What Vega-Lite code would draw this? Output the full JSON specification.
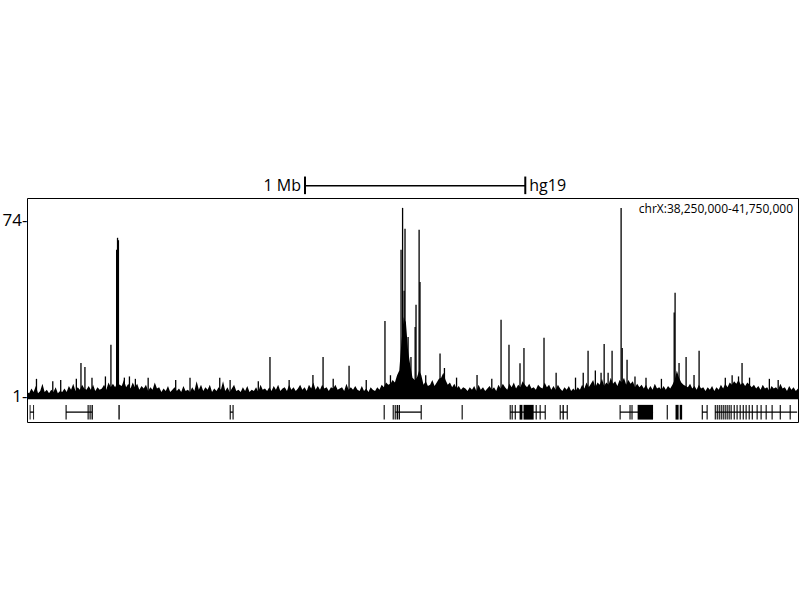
{
  "$schema": "https://vega.github.io/schema/vega-lite/v6.json",
  "width": 771,
  "height": 224,
  "autosize": {"type": "none"},
  "padding": {"left": 27, "top": 198, "right": 2, "bottom": 178},
  "background": "white",
  "config": {"view": {"stroke": "black", "strokeWidth": 1}},
  "datasets": {
    "signal": [
      {"kb":38250,"v":3},{"kb":38260,"v":2.5},{"kb":38270,"v":4.5},{"kb":38280,"v":3},{"kb":38290,"v":5.5},{"kb":38300,"v":2.5},{"kb":38310,"v":3.5},{"kb":38320,"v":6.5},{"kb":38330,"v":3},{"kb":38340,"v":4},
      {"kb":38350,"v":2.5},{"kb":38360,"v":4},{"kb":38370,"v":3},{"kb":38380,"v":5},{"kb":38390,"v":2.5},{"kb":38400,"v":3.5},{"kb":38410,"v":3},{"kb":38420,"v":4.5},{"kb":38430,"v":3},{"kb":38440,"v":5.5},
      {"kb":38450,"v":4},{"kb":38460,"v":6.5},{"kb":38470,"v":3.5},{"kb":38480,"v":5},{"kb":38490,"v":4},{"kb":38500,"v":6},{"kb":38510,"v":4.5},{"kb":38520,"v":4},{"kb":38530,"v":5.5},{"kb":38540,"v":4},
      {"kb":38550,"v":6},{"kb":38560,"v":3.5},{"kb":38570,"v":5},{"kb":38580,"v":4},{"kb":38590,"v":4.5},{"kb":38600,"v":6},{"kb":38610,"v":4},{"kb":38620,"v":7},{"kb":38630,"v":5},{"kb":38640,"v":6.5},
      {"kb":38650,"v":5},{"kb":38660,"v":7},{"kb":38670,"v":6},{"kb":38680,"v":5.5},{"kb":38690,"v":8},{"kb":38700,"v":5},{"kb":38710,"v":6.5},{"kb":38720,"v":4.5},{"kb":38730,"v":7},{"kb":38740,"v":5},
      {"kb":38750,"v":6.5},{"kb":38760,"v":4},{"kb":38770,"v":5.5},{"kb":38780,"v":4.5},{"kb":38790,"v":6},{"kb":38800,"v":3.5},{"kb":38810,"v":5},{"kb":38820,"v":4},{"kb":38830,"v":7},{"kb":38840,"v":4.5},
      {"kb":38850,"v":5},{"kb":38860,"v":3},{"kb":38870,"v":4.5},{"kb":38880,"v":3.5},{"kb":38890,"v":5.5},{"kb":38900,"v":3},{"kb":38910,"v":4},{"kb":38920,"v":5},{"kb":38930,"v":3.5},{"kb":38940,"v":4.5},
      {"kb":38950,"v":3},{"kb":38960,"v":5.5},{"kb":38970,"v":3.5},{"kb":38980,"v":4},{"kb":38990,"v":3},{"kb":39000,"v":5},{"kb":39010,"v":3.5},{"kb":39020,"v":7.5},{"kb":39030,"v":4},{"kb":39040,"v":6},
      {"kb":39050,"v":3.5},{"kb":39060,"v":5},{"kb":39070,"v":4},{"kb":39080,"v":6},{"kb":39090,"v":3},{"kb":39100,"v":4.5},{"kb":39110,"v":3.5},{"kb":39120,"v":5},{"kb":39130,"v":4},{"kb":39140,"v":7.5},
      {"kb":39150,"v":3.5},{"kb":39160,"v":5},{"kb":39170,"v":3},{"kb":39180,"v":4.5},{"kb":39190,"v":6},{"kb":39200,"v":3.5},{"kb":39210,"v":4},{"kb":39220,"v":3},{"kb":39230,"v":5},{"kb":39240,"v":3.5},
      {"kb":39250,"v":5.5},{"kb":39260,"v":3},{"kb":39270,"v":4},{"kb":39280,"v":3.5},{"kb":39290,"v":5},{"kb":39300,"v":3},{"kb":39310,"v":6},{"kb":39320,"v":4},{"kb":39330,"v":4.5},{"kb":39340,"v":3.5},
      {"kb":39350,"v":5},{"kb":39360,"v":3.5},{"kb":39370,"v":5.5},{"kb":39380,"v":4},{"kb":39390,"v":6},{"kb":39400,"v":3.5},{"kb":39410,"v":4.5},{"kb":39420,"v":5},{"kb":39430,"v":3.5},{"kb":39440,"v":6},
      {"kb":39450,"v":4},{"kb":39460,"v":5},{"kb":39470,"v":3.5},{"kb":39480,"v":4.5},{"kb":39490,"v":6},{"kb":39500,"v":4},{"kb":39510,"v":5},{"kb":39520,"v":3.5},{"kb":39530,"v":6},{"kb":39540,"v":4.5},
      {"kb":39550,"v":7},{"kb":39560,"v":4},{"kb":39570,"v":5.5},{"kb":39580,"v":4},{"kb":39590,"v":6},{"kb":39600,"v":4.5},{"kb":39610,"v":5},{"kb":39620,"v":3.5},{"kb":39630,"v":5},{"kb":39640,"v":4.5},
      {"kb":39650,"v":6},{"kb":39660,"v":4},{"kb":39670,"v":4.5},{"kb":39680,"v":5},{"kb":39690,"v":3.5},{"kb":39700,"v":6.5},{"kb":39710,"v":4},{"kb":39720,"v":5},{"kb":39730,"v":4},{"kb":39740,"v":5.5},
      {"kb":39750,"v":4},{"kb":39760,"v":3.5},{"kb":39770,"v":5.5},{"kb":39780,"v":3.5},{"kb":39790,"v":4.5},{"kb":39800,"v":3},{"kb":39810,"v":5},{"kb":39820,"v":4},{"kb":39830,"v":3.5},{"kb":39840,"v":5},
      {"kb":39850,"v":4},{"kb":39860,"v":6},{"kb":39870,"v":5},{"kb":39880,"v":7},{"kb":39890,"v":6},{"kb":39900,"v":6.5},{"kb":39910,"v":8},{"kb":39920,"v":7},{"kb":39930,"v":10},{"kb":39940,"v":12},
      {"kb":39950,"v":24},{"kb":39960,"v":34},{"kb":39970,"v":32},{"kb":39980,"v":20},{"kb":39990,"v":14},{"kb":40000,"v":9},{"kb":40010,"v":8},{"kb":40020,"v":9},{"kb":40030,"v":12},{"kb":40040,"v":10},
      {"kb":40050,"v":6},{"kb":40060,"v":7.5},{"kb":40070,"v":5.5},{"kb":40080,"v":6},{"kb":40090,"v":8},{"kb":40100,"v":5.5},{"kb":40110,"v":7},{"kb":40120,"v":8.5},{"kb":40130,"v":9},{"kb":40140,"v":11},
      {"kb":40150,"v":8},{"kb":40160,"v":6},{"kb":40170,"v":7},{"kb":40180,"v":5},{"kb":40190,"v":6.5},{"kb":40200,"v":4.5},{"kb":40210,"v":5.5},{"kb":40220,"v":4},{"kb":40230,"v":5},{"kb":40240,"v":4.5},
      {"kb":40250,"v":3.5},{"kb":40260,"v":5},{"kb":40270,"v":4},{"kb":40280,"v":5.5},{"kb":40290,"v":3.5},{"kb":40300,"v":6},{"kb":40310,"v":4},{"kb":40320,"v":5},{"kb":40330,"v":3.5},{"kb":40340,"v":4.5},
      {"kb":40350,"v":5.5},{"kb":40360,"v":4},{"kb":40370,"v":5},{"kb":40380,"v":3.5},{"kb":40390,"v":6},{"kb":40400,"v":4.5},{"kb":40410,"v":6.5},{"kb":40420,"v":5},{"kb":40430,"v":4},{"kb":40440,"v":6.5},
      {"kb":40450,"v":5},{"kb":40460,"v":7},{"kb":40470,"v":4.5},{"kb":40480,"v":6},{"kb":40490,"v":5},{"kb":40500,"v":7.5},{"kb":40510,"v":6},{"kb":40520,"v":5},{"kb":40530,"v":6.5},{"kb":40540,"v":4.5},
      {"kb":40550,"v":5},{"kb":40560,"v":4},{"kb":40570,"v":6},{"kb":40580,"v":5},{"kb":40590,"v":4.5},{"kb":40600,"v":7},{"kb":40610,"v":5},{"kb":40620,"v":6},{"kb":40630,"v":4},{"kb":40640,"v":5.5},
      {"kb":40650,"v":4},{"kb":40660,"v":6},{"kb":40670,"v":4.5},{"kb":40680,"v":3.5},{"kb":40690,"v":5},{"kb":40700,"v":4},{"kb":40710,"v":5.5},{"kb":40720,"v":3.5},{"kb":40730,"v":4.5},{"kb":40740,"v":3.5},
      {"kb":40750,"v":5},{"kb":40760,"v":4},{"kb":40770,"v":6},{"kb":40780,"v":4.5},{"kb":40790,"v":7},{"kb":40800,"v":5},{"kb":40810,"v":6.5},{"kb":40820,"v":8},{"kb":40830,"v":5},{"kb":40840,"v":7},
      {"kb":40850,"v":6},{"kb":40860,"v":8.5},{"kb":40870,"v":5.5},{"kb":40880,"v":7},{"kb":40890,"v":6},{"kb":40900,"v":9},{"kb":40910,"v":6.5},{"kb":40920,"v":7.5},{"kb":40930,"v":5.5},{"kb":40940,"v":8},
      {"kb":40950,"v":7},{"kb":40960,"v":9},{"kb":40970,"v":6},{"kb":40980,"v":8},{"kb":40990,"v":6.5},{"kb":41000,"v":7.5},{"kb":41010,"v":5},{"kb":41020,"v":6.5},{"kb":41030,"v":5},{"kb":41040,"v":6},
      {"kb":41050,"v":4.5},{"kb":41060,"v":6},{"kb":41070,"v":4},{"kb":41080,"v":5.5},{"kb":41090,"v":4},{"kb":41100,"v":6.5},{"kb":41110,"v":4.5},{"kb":41120,"v":5},{"kb":41130,"v":4},{"kb":41140,"v":5.5},
      {"kb":41150,"v":4},{"kb":41160,"v":5.5},{"kb":41170,"v":4.5},{"kb":41180,"v":6},{"kb":41190,"v":8},{"kb":41200,"v":12},{"kb":41210,"v":9},{"kb":41220,"v":7},{"kb":41230,"v":6},{"kb":41240,"v":5.5},
      {"kb":41250,"v":5},{"kb":41260,"v":6.5},{"kb":41270,"v":4.5},{"kb":41280,"v":5.5},{"kb":41290,"v":4},{"kb":41300,"v":6},{"kb":41310,"v":4.5},{"kb":41320,"v":5},{"kb":41330,"v":3.5},{"kb":41340,"v":5},
      {"kb":41350,"v":4},{"kb":41360,"v":5.5},{"kb":41370,"v":3.5},{"kb":41380,"v":5},{"kb":41390,"v":4},{"kb":41400,"v":6},{"kb":41410,"v":4.5},{"kb":41420,"v":6.5},{"kb":41430,"v":5},{"kb":41440,"v":7},
      {"kb":41450,"v":6},{"kb":41460,"v":7.5},{"kb":41470,"v":6.5},{"kb":41480,"v":8},{"kb":41490,"v":6},{"kb":41500,"v":7},{"kb":41510,"v":5.5},{"kb":41520,"v":7},{"kb":41530,"v":6},{"kb":41540,"v":5},
      {"kb":41550,"v":6},{"kb":41560,"v":4.5},{"kb":41570,"v":5.5},{"kb":41580,"v":4},{"kb":41590,"v":6},{"kb":41600,"v":4.5},{"kb":41610,"v":5},{"kb":41620,"v":3.5},{"kb":41630,"v":5.5},{"kb":41640,"v":4.5},
      {"kb":41650,"v":5},{"kb":41660,"v":4},{"kb":41670,"v":6.5},{"kb":41680,"v":4.5},{"kb":41690,"v":5},{"kb":41700,"v":3.5},{"kb":41710,"v":5.5},{"kb":41720,"v":4},{"kb":41730,"v":5},{"kb":41740,"v":3.5},{"kb":41750,"v":4.5}
    ],
    "spikes": [
      {"kb":38293,"v":8.5},{"kb":38367,"v":7.5},{"kb":38403,"v":8},{"kb":38474,"v":8.5},
      {"kb":38495,"v":15.1},{"kb":38513,"v":13.4},{"kb":38545,"v":9},{"kb":38606,"v":9.5},{"kb":38631,"v":22.6},
      {"kb":38657,"v":62},{"kb":38661,"v":67},{"kb":38665,"v":66},{"kb":38692,"v":9},{"kb":38715,"v":9.5},{"kb":38742,"v":8.5},
      {"kb":38800,"v":9},{"kb":38925,"v":8},{"kb":38990,"v":9},{"kb":39125,"v":9},{"kb":39172,"v":8},{"kb":39300,"v":7.5},
      {"kb":39353,"v":17.6},{"kb":39440,"v":8},{"kb":39548,"v":10.1},{"kb":39594,"v":17.6},{"kb":39640,"v":8.5},{"kb":39712,"v":13.9},{"kb":39790,"v":8},
      {"kb":39875,"v":32.5},{"kb":39900,"v":10},{"kb":39948,"v":62},{"kb":39955,"v":79.4},{"kb":39962,"v":45},{"kb":39966,"v":70.7},
      {"kb":39980,"v":25.9},{"kb":39993,"v":17.6},{"kb":40012,"v":30},{"kb":40016,"v":39.2},
      {"kb":40030,"v":70.3},{"kb":40034,"v":48.7},{"kb":40060,"v":10},{"kb":40125,"v":19},{"kb":40145,"v":13},{"kb":40200,"v":9},{"kb":40293,"v":10.1},
      {"kb":40360,"v":8.5},{"kb":40402,"v":33},{"kb":40438,"v":22.6},{"kb":40488,"v":15},{"kb":40506,"v":21.3},
      {"kb":40597,"v":25.5},{"kb":40652,"v":11},{"kb":40740,"v":9},{"kb":40775,"v":11},{"kb":40797,"v":20.1},{"kb":40830,"v":12},{"kb":40856,"v":11},
      {"kb":40870,"v":23},{"kb":40888,"v":11},{"kb":40906,"v":20.1},{"kb":40947,"v":79.4},{"kb":40952,"v":21.3},
      {"kb":40974,"v":16.4},{"kb":41010,"v":9.5},{"kb":41060,"v":9},{"kb":41130,"v":8.5},{"kb":41188,"v":36},{"kb":41192,"v":44.2},{"kb":41210,"v":15.1},
      {"kb":41242,"v":17.6},{"kb":41278,"v":10.1},{"kb":41301,"v":20.1},{"kb":41420,"v":9},{"kb":41451,"v":10},{"kb":41480,"v":9.5},{"kb":41496,"v":15.1},{"kb":41530,"v":9},{"kb":41620,"v":8.5},{"kb":41660,"v":8}
    ],
    "introns": [
      {"s":38264,"e":38282},{"s":38427,"e":38545},{"s":39172,"e":39185},{"s":39921,"e":40039},
      {"s":40443,"e":40602},{"s":40670,"e":40702},{"s":40942,"e":41092},{"s":41315,"e":41337},{"s":41374,"e":41746}
    ],
    "exons": [
      {"s":38262,"e":38266},{"s":38278,"e":38282},{"s":38425,"e":38430},{"s":38525,"e":38530},{"s":38534,"e":38539},{"s":38543,"e":38549},
      {"s":38665,"e":38671},{"s":39170,"e":39175},{"s":39183,"e":39188},{"s":39869,"e":39874},{"s":39910,"e":39915},{"s":39919,"e":39924},
      {"s":39928,"e":39934},{"s":39937,"e":39943},{"s":40037,"e":40042},{"s":40223,"e":40228},{"s":40441,"e":40446},{"s":40450,"e":40455},
      {"s":40464,"e":40469},{"s":40486,"e":40499},{"s":40504,"e":40550},{"s":40559,"e":40564},{"s":40577,"e":40582},{"s":40600,"e":40605},
      {"s":40668,"e":40673},{"s":40681,"e":40687},{"s":40700,"e":40705},{"s":40940,"e":40945},{"s":40985,"e":40990},{"s":40994,"e":40999},
      {"s":41022,"e":41092},{"s":41154,"e":41159},{"s":41194,"e":41208},{"s":41213,"e":41224},{"s":41313,"e":41318},{"s":41335,"e":41340},
      {"s":41372,"e":41377},{"s":41381,"e":41386},{"s":41390,"e":41395},{"s":41399,"e":41404},{"s":41408,"e":41413},{"s":41417,"e":41422},
      {"s":41426,"e":41431},{"s":41435,"e":41440},{"s":41444,"e":41449},{"s":41458,"e":41463},{"s":41471,"e":41476},{"s":41485,"e":41490},
      {"s":41499,"e":41504},{"s":41512,"e":41517},{"s":41526,"e":41531},{"s":41540,"e":41545},{"s":41562,"e":41567},{"s":41580,"e":41585},
      {"s":41603,"e":41608},{"s":41630,"e":41635},{"s":41667,"e":41672},{"s":41712,"e":41717}
    ],
    "scalebar": [{"s":39512,"e":40512}]
  },
  "layer": [
    {
      "data": {"name": "signal"},
      "mark": {"type": "area", "color": "black", "interpolate": "linear"},
      "encoding": {
        "x": {"field": "kb", "type": "quantitative", "scale": {"domain": [38250, 41750], "nice": false, "zero": false}, "axis": null},
        "y": {"field": "v", "type": "quantitative", "title": null,
              "scale": {"domain": [-9.4, 83.5], "nice": false, "zero": false},
              "axis": {"values": [1, 74], "labelExpr": "datum.value + '-'", "ticks": false, "domain": false, "grid": false,
                       "labelFontSize": 17, "labelFont": "Open Sans", "labelColor": "black", "labelPadding": 0, "title": null}},
        "y2": {"datum": 0}
      }
    },
    {
      "data": {"name": "spikes"},
      "mark": {"type": "rule", "color": "black", "strokeWidth": 1.3},
      "encoding": {
        "x": {"field": "kb", "type": "quantitative", "axis": null},
        "y": {"field": "v", "type": "quantitative", "title": null},
        "y2": {"datum": 1}
      }
    },
    {
      "data": {"name": "introns"},
      "mark": {"type": "rule", "color": "black", "strokeWidth": 1.3},
      "encoding": {
        "x": {"field": "s", "type": "quantitative", "axis": null},
        "x2": {"field": "e"},
        "y": {"datum": -5.3, "type": "quantitative"}
      }
    },
    {
      "data": {"name": "exons"},
      "mark": {"type": "rect", "color": "black"},
      "encoding": {
        "x": {"field": "s", "type": "quantitative", "axis": null},
        "x2": {"field": "e"},
        "y": {"datum": -2.3, "type": "quantitative"},
        "y2": {"datum": -8.4}
      }
    },
    {
      "data": {"name": "scalebar"},
      "mark": {"type": "rule", "color": "black", "strokeWidth": 1.5},
      "encoding": {
        "x": {"field": "s", "type": "quantitative", "axis": null},
        "x2": {"field": "e"},
        "y": {"datum": 88.6, "type": "quantitative"}
      }
    },
    {
      "data": {"name": "scalebar"},
      "mark": {"type": "rule", "color": "black", "strokeWidth": 2},
      "encoding": {
        "x": {"field": "s", "type": "quantitative", "axis": null},
        "y": {"datum": 85.1, "type": "quantitative"},
        "y2": {"datum": 92.4}
      }
    },
    {
      "data": {"name": "scalebar"},
      "mark": {"type": "rule", "color": "black", "strokeWidth": 2},
      "encoding": {
        "x": {"field": "e", "type": "quantitative", "axis": null},
        "y": {"datum": 85.1, "type": "quantitative"},
        "y2": {"datum": 92.4}
      }
    },
    {
      "data": {"name": "scalebar"},
      "mark": {"type": "text", "text": "1 Mb", "align": "right", "baseline": "middle", "dx": -4, "fontSize": 16, "font": "Open Sans", "color": "black"},
      "encoding": {
        "x": {"field": "s", "type": "quantitative", "axis": null},
        "y": {"datum": 88.6, "type": "quantitative"}
      }
    },
    {
      "data": {"name": "scalebar"},
      "mark": {"type": "text", "text": "hg19", "align": "left", "baseline": "middle", "dx": 4, "fontSize": 16, "font": "Open Sans", "color": "black"},
      "encoding": {
        "x": {"field": "e", "type": "quantitative", "axis": null},
        "y": {"datum": 88.6, "type": "quantitative"}
      }
    },
    {
      "data": {"values": [{"label": "chrX:38,250,000-41,750,000"}]},
      "mark": {"type": "text", "align": "right", "baseline": "middle", "dx": -5, "fontSize": 12, "font": "Open Sans", "color": "black"},
      "encoding": {
        "text": {"field": "label"},
        "x": {"datum": 41750, "type": "quantitative", "axis": null},
        "y": {"datum": 79, "type": "quantitative"}
      }
    }
  ]
}
